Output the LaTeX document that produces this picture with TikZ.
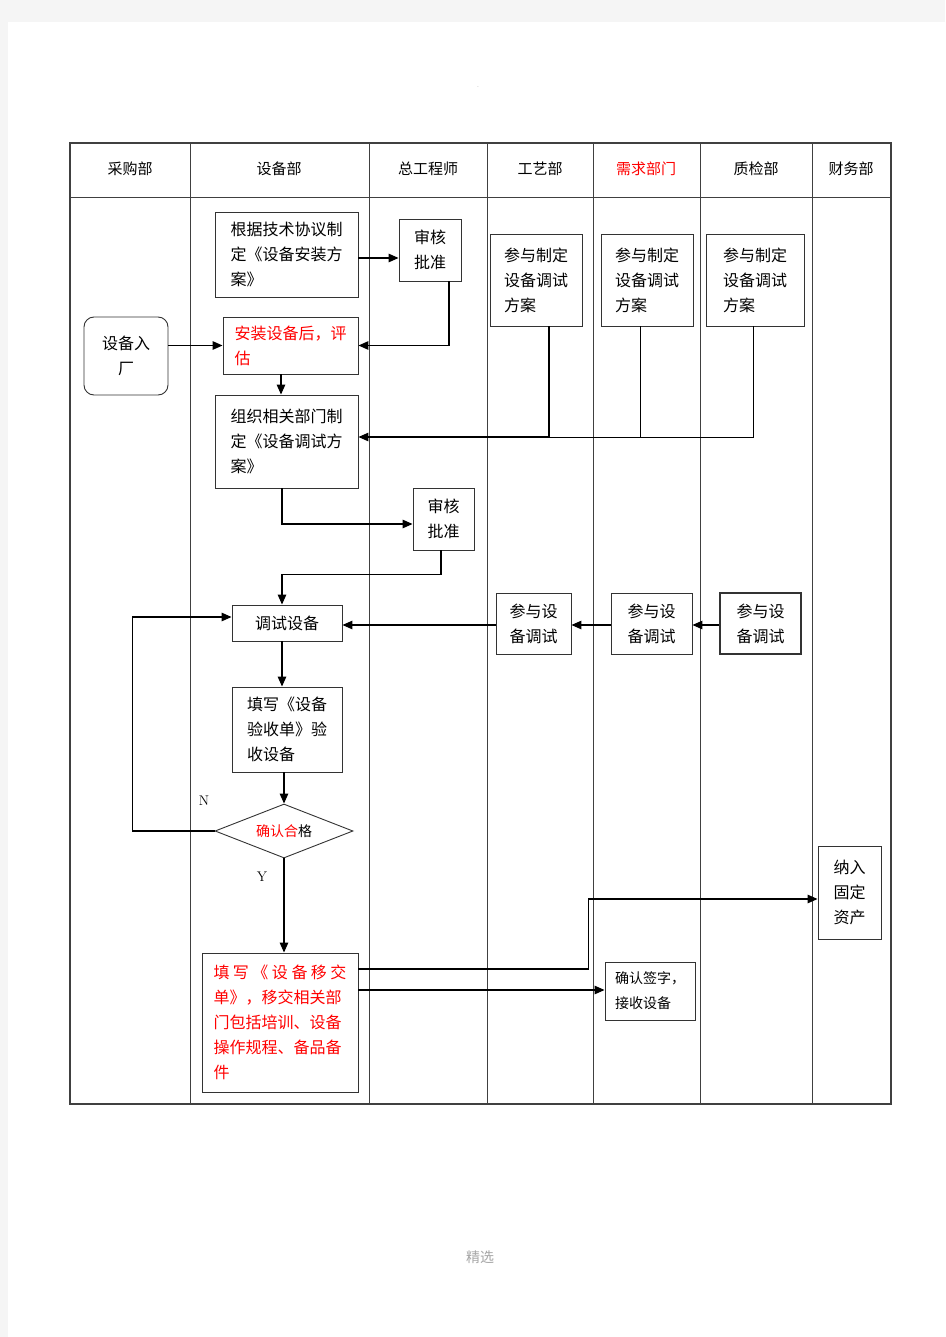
\documentclass[tikz,border=0pt]{standalone}
\usepackage{fontspec}
\newfontfamily\cjk{Noto Sans CJK SC}
\usetikzlibrary{arrows.meta,shapes.geometric}
\begin{document}
\begin{tikzpicture}[x=1pt,y=-1pt,
  box/.style={draw=black!80, line width=0.9pt, fill=white, inner sep=0pt, align=left, font=\cjk\fontsize{16}{25}\selectfont},
  arr/.style={-{Triangle[length=10pt,width=8.5pt]}, line width=1.3pt},
  ln/.style={line width=0.9pt},
  lane/.style={draw=black!75, line width=0.8pt},
  hd/.style={font=\cjk\fontsize{15}{18}\selectfont},
  lbl/.style={font=\fontsize{14}{16}\selectfont}]
\fill[black!4] (0,0) rectangle (945,1337);
\fill[white] (8,22) rectangle (945,1337);
\useasboundingbox (0,0) rectangle (945,1337);
\node[text=black!35, font=\fontsize{8}{8}\selectfont] (dot) at (478,87) {.};
\node[text=black!35, font=\cjk\fontsize{14}{16}\selectfont] (foot) at (480,1257) {精选};
% table
\draw[lane, line width=1.2pt] (70,143) rectangle (891,1104);
\draw[lane] (70,197) -- (891,197);
\foreach \x in {190,369,487,593,700,812} \draw[lane] (\x,143) -- (\x,1104);
% headers
\node[hd] (h1) at (130,169) {采购部};
\node[hd] (h2) at (279,169) {设备部};
\node[hd] (h3) at (428,169) {总工程师};
\node[hd] (h4) at (540,169) {工艺部};
\node[hd, text=red] (h5) at (646,169) {需求部门};
\node[hd] (h6) at (756,169) {质检部};
\node[hd] (h7) at (851,169) {财务部};
% nodes
\node[box, minimum width=143pt, minimum height=85pt] (gen) at (286.5,254.5) {根据技术协议制\\定《设备安装方\\案》};
\node[box, align=center, minimum width=62pt, minimum height=62pt] (sh1) at (430,250) {审核\\批准};
\node[box, align=center, rounded corners=10pt, minimum width=84pt, minimum height=78pt] (ruchang) at (126,356) {设备入\\厂};
\node[box, text=red, minimum width=135pt, minimum height=57pt] (anzhuang) at (290.5,345.5) {安装设备后，评\\估};
\node[box, minimum width=143pt, minimum height=93pt] (zuzhi) at (286.5,441.5) {组织相关部门制\\定《设备调试方\\案》};
\node[box, align=center, minimum width=61pt, minimum height=62pt] (sh2) at (443.5,519) {审核\\批准};
\node[box, minimum width=92pt, minimum height=92pt] (cz1) at (536,280) {参与制定\\设备调试\\方案};
\node[box, minimum width=92pt, minimum height=92pt] (cz2) at (647,280) {参与制定\\设备调试\\方案};
\node[box, minimum width=98pt, minimum height=92pt] (cz3) at (755,280) {参与制定\\设备调试\\方案};
\node[box, minimum width=110pt, minimum height=36pt] (tiaoshi) at (287,623) {调试设备};
\node[box, minimum width=75pt, minimum height=61pt] (ts1) at (533.5,623.5) {参与设\\备调试};
\node[box, minimum width=81pt, minimum height=61pt] (ts2) at (651.5,623.5) {参与设\\备调试};
\node[box, line width=1.5pt, minimum width=81pt, minimum height=61pt] (ts3) at (760.5,623.5) {参与设\\备调试};
\node[box, minimum width=110pt, minimum height=85pt] (yanshou) at (287,729.5) {填写《设备\\验收单》验\\收设备};
\node[box, diamond, aspect=2.56, minimum width=138pt, minimum height=54pt, font=\cjk\fontsize{14}{16}\selectfont] (dia) at (284,831) {\textcolor{red}{确认合}格};
\node[box, text=red, minimum width=156pt, minimum height=139pt] (yijiao) at (280,1022.5) {\makebox[133pt][l]{填\hfill{}写\hfill{}《\hfill{}设\hfill{}备\hfill{}移\hfill{}交}\\单》，移交相关部\\门包括培训、设备\\操作规程、备品备\\件};
\node[box, font=\cjk\fontsize{14}{25}\selectfont, minimum width=90pt, minimum height=58pt] (qianzi) at (650,991) {确认签字，\\接收设备};
\node[box, minimum width=63pt, minimum height=93pt] (nari) at (849.5,892.5) {纳入\\固定\\资产};
\node[lbl] (nlab) at (204,801) {N};
\node[lbl] (ylab) at (262,877) {Y};
% connectors
\draw[arr] ([yshift=-3.5pt]gen.east) -- ([yshift=-3.5pt]gen.east -| sh1.west);
\draw[arr] ([xshift=19pt]sh1.south) |- (anzhuang.east);
\draw[arr] (ruchang.east |- anzhuang.west) -- (anzhuang.west);
\draw[arr] ([xshift=-9.5pt]anzhuang.south) -- ([xshift=-5.5pt]zuzhi.north);
\coordinate (bus) at (0,437);
\draw[ln] ([xshift=-2pt]cz3.south) |- ([xshift=13pt]cz1.south |- bus);
\draw[ln] ([xshift=-7pt]cz2.south) -- ([xshift=-7pt]cz2.south |- bus);
\draw[arr] ([xshift=13pt]cz1.south) |- ([yshift=4.5pt]zuzhi.east);
\draw[arr] ([xshift=-4.5pt]zuzhi.south) |- ([yshift=-5pt]sh2.west);
\draw[arr] ([xshift=-2.5pt]sh2.south) -- ++(0,24) -| ([xshift=-5pt]tiaoshi.north);
\draw[arr] ([yshift=-1.5pt]ts3.west) -- ([yshift=-1.5pt]ts3.west -| ts2.east);
\draw[arr] ([yshift=-1.5pt]ts2.west) -- ([yshift=-1.5pt]ts2.west -| ts1.east);
\draw[arr] ([yshift=-1.5pt]ts1.west) -- ([yshift=-1.5pt]ts1.west -| tiaoshi.east);
\draw[arr] ([xshift=-5pt]tiaoshi.south) -- ([xshift=-5pt]yanshou.north);
\draw[arr] (dia.north |- yanshou.south) -- (dia.north);
\draw[arr] (dia.west) -- ++(-82,0) |- ([yshift=6pt]tiaoshi.west);
\draw[arr] (dia.south) -- (dia.south |- yijiao.north);
\draw[arr] ([yshift=53.5pt]yijiao.east) -- ++(230,0) |- ([yshift=-6.5pt]nari.west);
\draw[arr] ([yshift=32.5pt]yijiao.east) -- ([yshift=32.5pt]yijiao.east -| qianzi.west);
\end{tikzpicture}
\end{document}
